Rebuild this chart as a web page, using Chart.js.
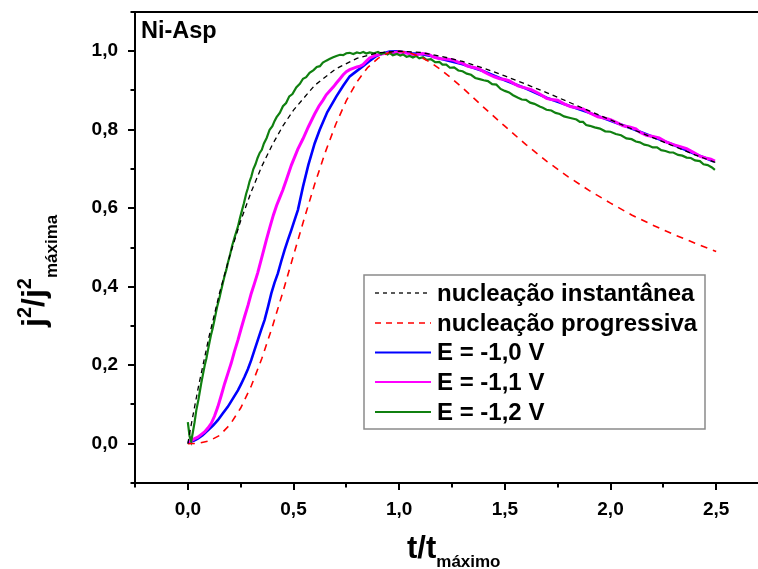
<!DOCTYPE html>
<html>
<head>
<meta charset="utf-8">
<script src="https://cdn.jsdelivr.net/npm/chart.js@4/dist/chart.umd.min.js"></script>
<style>
html,body{margin:0;padding:0;background:#fff;overflow:hidden;}
#wrap{width:772px;height:569px;}
</style>
</head>
<body>
<div id="wrap"><canvas id="c" width="772" height="569"></canvas></div>
<script>
// ---------- tick labels ----------
const xTickValues = [0, 0.5, 1.0, 1.5, 2.0, 2.5];
const xTickLabels = ['0,0', '0,5', '1,0', '1,5', '2,0', '2,5'];
const yTickValues = [0, 0.2, 0.4, 0.6, 0.8, 1.0];
const yTickLabels = ['0,0', '0,2', '0,4', '0,6', '0,8', '1,0'];

// ---------- series names ----------
const seriesNames = ['nucleação instantânea', 'nucleação progressiva', 'E = -1,0 V', 'E = -1,1 V', 'E = -1,2 V'];
const panelLabel = 'Ni-Asp';

// ---------- theoretical: instantaneous nucleation ----------
const instT = [0, 0.01, 0.02, 0.05, 0.1, 0.15, 0.2, 0.25, 0.3, 0.35, 0.4, 0.45, 0.5, 0.6, 0.7, 0.8, 0.9, 1.0, 1.1, 1.2, 1.3, 1.4, 1.5, 1.6, 1.7, 1.8, 1.9, 2.0, 2.1, 2.2, 2.3, 2.4, 2.5];
const instJ = [0, 0.031, 0.060, 0.145, 0.272, 0.384, 0.482, 0.568, 0.642, 0.707, 0.762, 0.810, 0.850, 0.913, 0.955, 0.982, 0.996, 1.000, 0.997, 0.987, 0.974, 0.957, 0.937, 0.916, 0.894, 0.871, 0.848, 0.825, 0.802, 0.780, 0.758, 0.736, 0.716];

// ---------- theoretical: progressive nucleation ----------
const progT = [0, 0.05, 0.1, 0.15, 0.2, 0.25, 0.3, 0.35, 0.4, 0.45, 0.5, 0.55, 0.6, 0.65, 0.7, 0.75, 0.8, 0.85, 0.9, 0.95, 1.0, 1.05, 1.1, 1.15, 1.2, 1.25, 1.3, 1.35, 1.4, 1.5, 1.6, 1.7, 1.8, 1.9, 2.0, 2.1, 2.2, 2.3, 2.4, 2.5];
const progJ = [0, 0.001, 0.007, 0.021, 0.049, 0.091, 0.147, 0.217, 0.298, 0.387, 0.480, 0.572, 0.661, 0.742, 0.814, 0.874, 0.922, 0.958, 0.982, 0.996, 1.000, 0.996, 0.986, 0.971, 0.952, 0.930, 0.907, 0.882, 0.857, 0.809, 0.762, 0.719, 0.680, 0.645, 0.613, 0.583, 0.557, 0.533, 0.511, 0.490];

// ---------- experimental: E = -1,0 V ----------
const e10T = [0.0, 0.008, 0.03, 0.047, 0.07, 0.095, 0.12, 0.142, 0.165, 0.189, 0.213, 0.237, 0.252, 0.268, 0.284, 0.3, 0.315, 0.331, 0.347, 0.363, 0.38, 0.395, 0.41, 0.426, 0.442, 0.458, 0.474, 0.49, 0.505, 0.521, 0.545, 0.57, 0.6, 0.624, 0.66, 0.703, 0.735, 0.766, 0.8, 0.829, 0.86, 0.892, 0.92, 0.955, 0.99, 1.02, 1.06, 1.1, 1.15, 1.2, 1.3, 1.4, 1.5, 1.6, 1.7, 1.8, 1.9, 2.0, 2.1, 2.2, 2.3, 2.4, 2.49];
const e10J = [0.002, 0.004, 0.008, 0.013, 0.022, 0.034, 0.047, 0.060, 0.077, 0.094, 0.115, 0.136, 0.152, 0.170, 0.190, 0.213, 0.238, 0.264, 0.290, 0.315, 0.350, 0.383, 0.410, 0.434, 0.465, 0.494, 0.520, 0.545, 0.570, 0.596, 0.655, 0.710, 0.765, 0.800, 0.845, 0.885, 0.912, 0.936, 0.950, 0.962, 0.975, 0.988, 0.994, 0.999, 1.000, 0.998, 0.995, 0.993, 0.988, 0.980, 0.967, 0.949, 0.926, 0.905, 0.881, 0.862, 0.843, 0.823, 0.803, 0.782, 0.761, 0.738, 0.719];

// ---------- experimental: E = -1,1 V ----------
const e11T = [0.005, 0.02, 0.032, 0.045, 0.055, 0.067, 0.079, 0.095, 0.111, 0.126, 0.142, 0.158, 0.174, 0.19, 0.205, 0.22, 0.237, 0.252, 0.268, 0.285, 0.3, 0.315, 0.331, 0.35, 0.371, 0.39, 0.405, 0.42, 0.435, 0.45, 0.466, 0.49, 0.52, 0.545, 0.57, 0.6, 0.62, 0.639, 0.655, 0.67, 0.69, 0.703, 0.72, 0.735, 0.75, 0.766, 0.785, 0.8, 0.815, 0.829, 0.845, 0.86, 0.885, 0.908, 0.93, 0.955, 0.98, 1.0, 1.02, 1.04, 1.06, 1.08, 1.095, 1.11, 1.13, 1.144, 1.16, 1.18, 1.2, 1.22, 1.24, 1.26, 1.28, 1.302, 1.32, 1.34, 1.36, 1.381, 1.4, 1.42, 1.45, 1.476, 1.5, 1.52, 1.545, 1.565, 1.6, 1.625, 1.665, 1.697, 1.72, 1.75, 1.78, 1.81, 1.839, 1.87, 1.902, 1.94, 1.97, 2.0, 2.03, 2.06, 2.09, 2.12, 2.139, 2.17, 2.2, 2.23, 2.26, 2.297, 2.33, 2.36, 2.39, 2.423, 2.45, 2.475, 2.494];
const e11J = [0.004, 0.009, 0.013, 0.016, 0.020, 0.025, 0.030, 0.040, 0.052, 0.070, 0.094, 0.123, 0.153, 0.180, 0.205, 0.234, 0.264, 0.293, 0.323, 0.353, 0.383, 0.408, 0.436, 0.475, 0.518, 0.555, 0.583, 0.607, 0.627, 0.647, 0.672, 0.710, 0.750, 0.777, 0.807, 0.840, 0.860, 0.875, 0.889, 0.898, 0.910, 0.919, 0.930, 0.940, 0.948, 0.953, 0.957, 0.960, 0.962, 0.966, 0.975, 0.983, 0.989, 0.992, 0.994, 0.996, 0.997, 0.998, 0.997, 0.995, 0.992, 0.990, 0.993, 0.994, 0.993, 0.991, 0.986, 0.983, 0.981, 0.980, 0.979, 0.977, 0.972, 0.969, 0.963, 0.960, 0.958, 0.954, 0.948, 0.942, 0.935, 0.930, 0.928, 0.925, 0.917, 0.911, 0.906, 0.902, 0.891, 0.880, 0.877, 0.875, 0.866, 0.859, 0.856, 0.853, 0.843, 0.833, 0.830, 0.826, 0.818, 0.810, 0.807, 0.802, 0.794, 0.786, 0.783, 0.779, 0.770, 0.762, 0.757, 0.752, 0.743, 0.733, 0.728, 0.725, 0.720];

// ---------- experimental: E = -1,2 V ----------
const e12T = [0, 0.008, 0.016, 0.024, 0.032, 0.04, 0.05, 0.063, 0.072, 0.08, 0.088, 0.095, 0.103, 0.11, 0.118, 0.126, 0.133, 0.14, 0.149, 0.158, 0.166, 0.175, 0.182, 0.189, 0.2, 0.21, 0.222, 0.237, 0.246, 0.255, 0.265, 0.276, 0.284, 0.292, 0.3, 0.31, 0.32, 0.33, 0.34, 0.35, 0.36, 0.373, 0.387, 0.4, 0.41, 0.42, 0.435, 0.45, 0.465, 0.48, 0.495, 0.513, 0.53, 0.545, 0.56, 0.576, 0.595, 0.61, 0.625, 0.639, 0.655, 0.67, 0.685, 0.703, 0.72, 0.735, 0.75, 0.766, 0.783, 0.8, 0.815, 0.83, 0.845, 0.86, 0.88, 0.9, 0.915, 0.93, 0.945, 0.955, 0.97, 0.99, 1.005, 1.018, 1.035, 1.05, 1.065, 1.08, 1.095, 1.113, 1.13, 1.15, 1.17, 1.19, 1.205, 1.223, 1.24, 1.26, 1.28, 1.3, 1.32, 1.34, 1.36, 1.381, 1.4, 1.42, 1.44, 1.46, 1.48, 1.5, 1.52, 1.539, 1.56, 1.58, 1.6, 1.62, 1.64, 1.665, 1.68, 1.697, 1.72, 1.74, 1.76, 1.78, 1.81, 1.839, 1.855, 1.87, 1.885, 1.902, 1.925, 1.95, 1.975, 2.0, 2.025, 2.05, 2.075, 2.1, 2.12, 2.139, 2.16, 2.18, 2.2, 2.22, 2.24, 2.26, 2.28, 2.297, 2.32, 2.34, 2.36, 2.38, 2.4, 2.423, 2.44, 2.46, 2.48, 2.494];
const e12J = [0.055, 0.020, 0.006, 0.030, 0.055, 0.085, 0.112, 0.153, 0.178, 0.200, 0.218, 0.238, 0.260, 0.278, 0.295, 0.315, 0.334, 0.352, 0.370, 0.392, 0.410, 0.430, 0.443, 0.460, 0.482, 0.505, 0.527, 0.553, 0.574, 0.592, 0.612, 0.637, 0.651, 0.668, 0.680, 0.700, 0.712, 0.728, 0.741, 0.749, 0.765, 0.779, 0.800, 0.809, 0.822, 0.832, 0.843, 0.860, 0.868, 0.885, 0.891, 0.908, 0.917, 0.930, 0.934, 0.945, 0.952, 0.960, 0.962, 0.971, 0.976, 0.980, 0.984, 0.988, 0.991, 0.990, 0.995, 0.996, 0.993, 0.997, 0.995, 0.998, 0.994, 0.997, 0.995, 0.998, 0.993, 0.996, 0.992, 0.996, 0.990, 0.993, 0.989, 0.992, 0.986, 0.988, 0.984, 0.988, 0.982, 0.985, 0.978, 0.980, 0.972, 0.973, 0.966, 0.966, 0.958, 0.959, 0.951, 0.949, 0.943, 0.940, 0.932, 0.929, 0.926, 0.924, 0.916, 0.915, 0.904, 0.899, 0.895, 0.888, 0.882, 0.877, 0.876, 0.869, 0.866, 0.859, 0.856, 0.851, 0.849, 0.843, 0.840, 0.834, 0.830, 0.826, 0.820, 0.820, 0.812, 0.810, 0.806, 0.803, 0.796, 0.795, 0.789, 0.786, 0.778, 0.776, 0.770, 0.768, 0.762, 0.760, 0.755, 0.755, 0.748, 0.746, 0.742, 0.742, 0.736, 0.734, 0.729, 0.728, 0.722, 0.720, 0.712, 0.710, 0.704, 0.698];

const FONT = '"Liberation Sans", Arial, sans-serif';
const zip = (xs, ys) => xs.map((v, i) => ({x: v, y: ys[i]}));
const near = (arr, v) => arr.findIndex(a => Math.abs(a - v) < 1e-6);

const datasets = [
  {label: seriesNames[0], data: zip(instT, instJ), borderColor: '#000000', borderWidth: 1.3, borderDash: [5, 4], order: 0},
  {label: seriesNames[1], data: zip(progT, progJ), borderColor: '#ff0000', borderWidth: 1.6, borderDash: [7, 6], order: 1},
  {label: seriesNames[2], data: zip(e10T, e10J), borderColor: '#0000ff', borderWidth: 2.6, borderDash: [], order: 4},
  {label: seriesNames[3], data: zip(e11T, e11J), borderColor: '#ff00ff', borderWidth: 3, borderDash: [], order: 3},
  {label: seriesNames[4], data: zip(e12T, e12J), borderColor: '#108010', borderWidth: 2.2, borderDash: [], order: 2}
].map(d => Object.assign(d, {showLine: true, pointRadius: 0, fill: false, tension: 0}));

const zeroPad = s => { s.paddingTop = 0; s.paddingBottom = 0; s.paddingLeft = 0; s.paddingRight = 0; };

const decor = {
  id: 'decor',
  afterDraw(chart) {
    const {ctx, chartArea: a, scales: {x, y}} = chart;
    ctx.save();
    ctx.strokeStyle = '#000';
    ctx.lineWidth = 2;
    // top frame line
    ctx.beginPath(); ctx.moveTo(a.left - 1, a.top); ctx.lineTo(a.right + 2, a.top); ctx.stroke();
    // minor ticks
    x.ticks.forEach(t => {
      if (near(xTickValues, t.value) < 0) {
        const px = Math.round(x.getPixelForValue(t.value));
        ctx.beginPath(); ctx.moveTo(px, a.bottom); ctx.lineTo(px, a.bottom + 4.5); ctx.stroke();
      }
    });
    y.ticks.forEach(t => {
      if (near(yTickValues, t.value) < 0) {
        const py = Math.round(y.getPixelForValue(t.value));
        ctx.beginPath(); ctx.moveTo(a.left, py); ctx.lineTo(a.left - 4.5, py); ctx.stroke();
      }
    });

    ctx.fillStyle = '#000';
    ctx.textAlign = 'left';
    ctx.textBaseline = 'alphabetic';
    // panel label
    ctx.font = `bold 23.5px ${FONT}`;
    ctx.fillText(panelLabel, a.left + 6, a.top + 26);

    // x-axis title: t/t_máximo
    ctx.font = `bold 31px ${FONT}`;
    const xt0 = 407, xb = 558;
    ctx.fillText('t/t', xt0, xb);
    const wT = ctx.measureText('t/t').width;
    ctx.font = `bold 17px ${FONT}`;
    ctx.fillText('máximo', xt0 + wT, xb + 9);

    // y-axis title: j²/j²_máxima (rotated)
    ctx.save();
    ctx.translate(44, 327);
    ctx.rotate(-Math.PI / 2);
    let cx = 0;
    ctx.font = `bold 32px ${FONT}`;
    ctx.fillText('j', cx, 0); cx += ctx.measureText('j').width;
    ctx.font = `bold 20px ${FONT}`;
    ctx.fillText('2', cx, -13); cx += ctx.measureText('2').width;
    ctx.font = `bold 32px ${FONT}`;
    ctx.fillText('/j', cx, 0); cx += ctx.measureText('/j').width;
    ctx.font = `bold 20px ${FONT}`;
    ctx.fillText('2', cx, -13); cx += ctx.measureText('2').width;
    ctx.font = `bold 17px ${FONT}`;
    ctx.fillText('máxima', cx, 13);
    ctx.restore();

    // legend box
    const bx = 364, by = 275, bw = 341, bh = 154;
    ctx.lineWidth = 1.5;
    ctx.strokeStyle = '#8a8a8a';
    ctx.strokeRect(bx, by, bw, bh);
    const rows = [293, 323, 352.5, 382, 412];
    chart.data.datasets.forEach((d, i) => {
      const ry = rows[i];
      ctx.save();
      ctx.strokeStyle = d.borderColor;
      ctx.lineWidth = Math.min(d.borderWidth, 2.2);
      ctx.setLineDash(i === 0 ? [4, 4] : (i === 1 ? [6, 5] : []));
      ctx.beginPath(); ctx.moveTo(375, ry); ctx.lineTo(431, ry); ctx.stroke();
      ctx.restore();
      ctx.font = `bold 24px ${FONT}`;
      ctx.textBaseline = 'middle';
      ctx.fillStyle = '#000';
      ctx.fillText(d.label, 437, ry + 1);
    });
    ctx.restore();
  }
};

new Chart(document.getElementById('c'), {
  type: 'scatter',
  data: {datasets},
  options: {
    responsive: false,
    animation: false,
    devicePixelRatio: 1,
    layout: {padding: {top: 12, right: 3, left: 0, bottom: 0}},
    plugins: {legend: {display: false}, tooltip: {enabled: false}},
    scales: {
      x: {
        type: 'linear', min: -0.25, max: 2.75,
        afterFit: s => { s.height = 86; zeroPad(s); },
        border: {display: true, color: '#000', width: 2},
        grid: {drawOnChartArea: false, drawTicks: true, tickLength: 7, lineWidth: 2,
               color: c => (c.tick && near(xTickValues, c.tick.value) >= 0) ? '#000' : 'rgba(0,0,0,0)'},
        ticks: {stepSize: 0.25, color: '#000', padding: 8, maxRotation: 0, autoSkip: false,
                font: {family: FONT, size: 19, weight: 'bold'},
                callback: v => { const i = near(xTickValues, v); return i >= 0 ? xTickLabels[i] : ''; }}
      },
      y: {
        type: 'linear', min: -0.1, max: 1.1,
        afterFit: s => { s.width = 135; zeroPad(s); },
        border: {display: true, color: '#000', width: 2},
        grid: {drawOnChartArea: false, drawTicks: true, tickLength: 7, lineWidth: 2,
               color: c => (c.tick && near(yTickValues, c.tick.value) >= 0) ? '#000' : 'rgba(0,0,0,0)'},
        ticks: {stepSize: 0.1, color: '#000', padding: 10, autoSkip: false,
                font: {family: FONT, size: 19, weight: 'bold'},
                callback: v => { const i = near(yTickValues, v); return i >= 0 ? yTickLabels[i] : ''; }}
      }
    }
  },
  plugins: [decor]
});
</script>
</body>
</html>
